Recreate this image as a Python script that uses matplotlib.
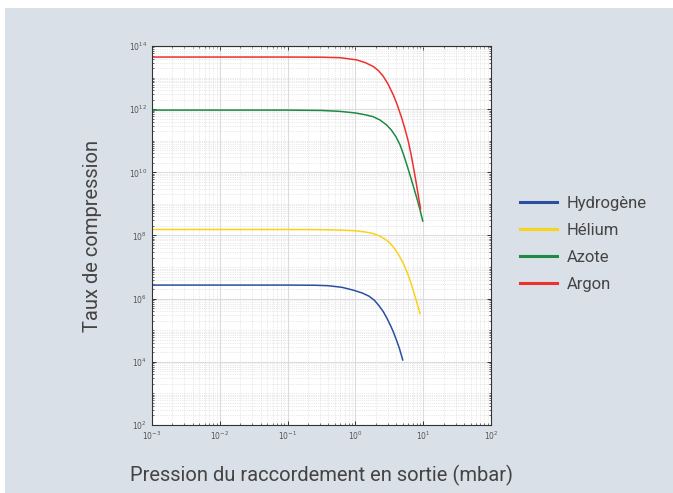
import matplotlib.pyplot as plt
import matplotlib.ticker as mticker
from matplotlib.patches import Rectangle
import numpy as np

# values (log10 of pressure in mbar, log10 of compression ratio)
h2_logp = [-3, -1, -0.6, -0.4, -0.2, -0.031, 0.1, 0.2, 0.28, 0.35, 0.411, 0.47, 0.52, 0.559, 0.6, 0.65, 0.698]
h2_logk = [6.43, 6.43, 6.425, 6.41, 6.36, 6.27, 6.18, 6.08, 5.95, 5.77, 5.59, 5.36, 5.14, 4.95, 4.72, 4.42, 4.06]

he_logp = [-3, -1, -0.5, -0.2, 0.0, 0.15, 0.264, 0.36, 0.44, 0.51, 0.58, 0.64, 0.707, 0.76, 0.80, 0.83, 0.87, 0.91, 0.953]
he_logk = [8.19, 8.19, 8.185, 8.17, 8.15, 8.11, 8.06, 7.98, 7.88, 7.76, 7.58, 7.38, 7.12, 6.85, 6.62, 6.42, 6.14, 5.85, 5.53]

n2_logp = [-3, -1, -0.5, -0.227, 0.0, 0.15, 0.264, 0.36, 0.46, 0.53, 0.6, 0.66, 0.707, 0.76, 0.81, 0.86, 0.91, 0.95, 0.993]
n2_logk = [11.97, 11.97, 11.96, 11.93, 11.88, 11.82, 11.76, 11.66, 11.50, 11.34, 11.12, 10.86, 10.58, 10.23, 9.88, 9.52, 9.15, 8.84, 8.46]

ar_logp = [-3, -1, -0.5, -0.227, 0.019, 0.15, 0.264, 0.34, 0.411, 0.48, 0.559, 0.62, 0.683, 0.73, 0.78, 0.82, 0.853, 0.89, 0.927, 0.96]
ar_logk = [13.65, 13.65, 13.645, 13.63, 13.56, 13.47, 13.35, 13.22, 13.04, 12.80, 12.45, 12.12, 11.72, 11.38, 10.98, 10.58, 10.20, 9.75, 9.28, 8.85]

labels = ["Hydrogène", "Hélium", "Azote", "Argon"]
colors = ["#2b4fa3", "#f9d21a", "#1e8a43", "#ee3030"]
series = [(h2_logp, h2_logk), (he_logp, he_logk), (n2_logp, n2_logk), (ar_logp, ar_logk)]

x_decades = np.arange(-3, 3)
y_decades = np.arange(2, 15, 2)

fig = plt.figure(figsize=(6.73, 4.93), dpi=100)
fig.patch.set_facecolor("white")
fig.patches.append(Rectangle((5 / 673, 0), 1, 1 - 8 / 493, transform=fig.transFigure,
                             facecolor="#d9e0e7", edgecolor="none", zorder=-10))

ax = fig.add_axes([152 / 673, 1 - 425 / 493, 339 / 673, 379 / 493])
ax.set_facecolor("white")

for (lp, lk), lab, col in zip(series, labels, colors):
    ax.plot(10 ** np.array(lp), 10 ** np.array(lk), color=col, lw=1.1, label=lab)

ax.set_xscale("log")
ax.set_yscale("log")
ax.set_xlim(1e-3, 1e2)
ax.set_ylim(1e2, 1e14)

ax.xaxis.set_major_locator(mticker.FixedLocator(10.0 ** x_decades))
ax.xaxis.set_minor_locator(mticker.LogLocator(base=10, subs=np.arange(2, 10), numticks=100))
ax.yaxis.set_major_locator(mticker.FixedLocator(10.0 ** y_decades))
ax.yaxis.set_minor_locator(mticker.LogLocator(base=10, subs=np.arange(1, 10), numticks=100))
ax.xaxis.set_major_formatter(mticker.LogFormatterMathtext())
ax.yaxis.set_major_formatter(mticker.LogFormatterMathtext())
ax.xaxis.set_minor_formatter(mticker.NullFormatter())
ax.yaxis.set_minor_formatter(mticker.NullFormatter())

ax.grid(True, which="major", color="#dcdcdc", lw=0.8, ls="-")
ax.grid(True, which="minor", color="#d4d4d4", lw=0.5, ls=":")
ax.set_axisbelow(True)

ax.tick_params(which="both", direction="in", top=True, right=True, colors="#333333",
               labelcolor="#555555", labelsize=5.5)
ax.tick_params(which="major", length=3, width=0.7)
ax.tick_params(which="minor", length=1.5, width=0.5)
for s in ax.spines.values():
    s.set_color("#333333")
    s.set_linewidth(0.8)

ax.set_xlabel("Pression du raccordement en sortie (mbar)", family="Roboto",
              fontsize=14.5, color="#444444", labelpad=16)
ax.set_ylabel("Taux de compression", family="Roboto", fontsize=14.5,
              color="#444444", labelpad=19)

leg = ax.legend(loc="center left", bbox_to_anchor=(1.066, 0.478), frameon=False,
                prop={"family": "Roboto", "size": 12}, handlelength=2.2,
                labelspacing=0.72, handletextpad=0.6, borderaxespad=0)
for t in leg.get_texts():
    t.set_color("#444444")
for h in leg.get_lines():
    h.set_linewidth(2.2)

fig.savefig("out.png", dpi=100)
